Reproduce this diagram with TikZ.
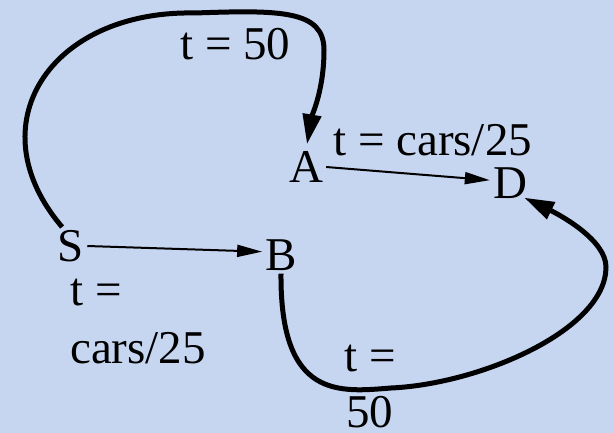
\documentclass[tikz,border=0pt]{standalone}
\usepackage{fontspec}
\setmainfont{Liberation Serif}
\newfontfamily\timesfam{Liberation Serif}
\usetikzlibrary{arrows.meta,calc}
\definecolor{bgblue}{RGB}{198,213,240}
\tikzset{
  vertex/.style={inner sep=3pt, font=\timesfam\fontsize{47}{56}\selectfont},
  lbl/.style={inner sep=0pt, anchor=base west, font=\timesfam\fontsize{47}{56}\selectfont},
  thin edge/.style={line width=2pt, -{Triangle[length=25pt,width=12pt]}},
  thick edge/.style={line width=5pt, -{Triangle[length=30pt,width=18pt]}}
}
\begin{document}
\begin{tikzpicture}[x=1pt,y=-1pt]
\fill[bgblue] (0,0) rectangle (613,433);
\useasboundingbox (0,0) rectangle (613,433);
% nodes
\node[vertex] (S) at (71,246) {S};
\node[vertex] (B) at (281,255) {B};
\node[vertex] (A) at (306,167) {A};
\node[vertex] (D) at (510,183) {D};
% labels
\node[lbl] (l1) at (180,60) {t = 50};
\node[lbl] (l2) at (333,155) {t = cars/25};
\node[lbl] (l3a) at (70,305) {t =};
\node[lbl] (l3b) at (70,363) {cars/25};
\node[lbl] (l4a) at (344,371) {t =};
\node[lbl] (l4b) at (346,427) {50};
% edges
\draw[thin edge] (S.east) -- (B.170);
\draw[thin edge] (A.east) -- (D.172);
\draw[thick edge] (S.115) .. controls (-25,125) and (50,10) .. (195,13)
  .. controls (280,10) and (324,10) .. (324,50)
  .. controls (324,90) and (312,115) .. ($(A.north)+(1,-4)$);
\draw[thick edge] (B.south) .. controls (280,400) and (340,392) .. (391,388)
  .. controls (480,384) and (606,330) .. (606,267)
  .. controls (606,240) and (560,215) .. ($(D.south east)+(-6,-4)$);
\end{tikzpicture}
\end{document}
